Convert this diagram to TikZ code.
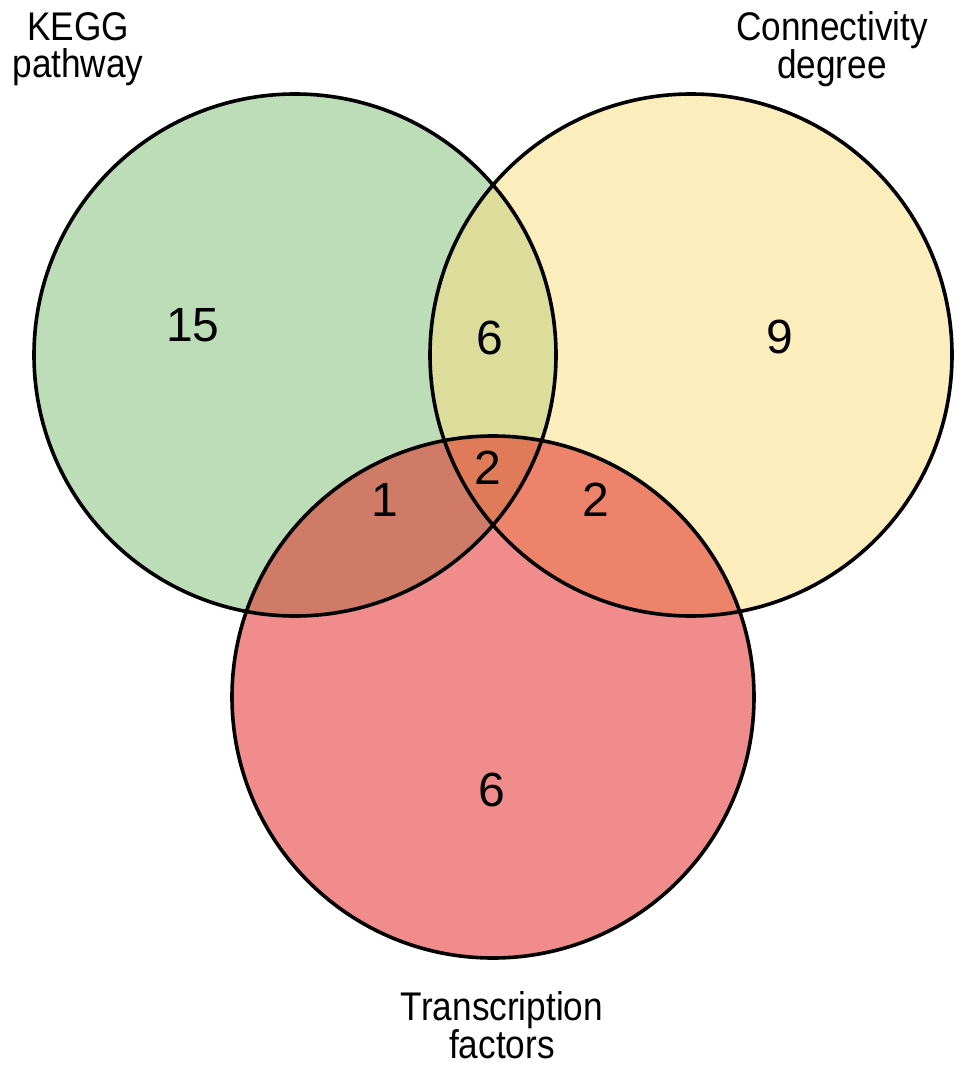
\documentclass[tikz,border=0pt]{standalone}
\usepackage{fontspec}
\setmainfont{Liberation Sans}
\newfontfamily\labelfont[FakeStretch=0.88]{Liberation Sans}
\definecolor{cgreen}{RGB}{125,189,115}
\definecolor{cyellow}{RGB}{251,221,125}
\definecolor{cred}{RGB}{226,26,26}
\tikzset{
  setfill/.style={fill=#1, fill opacity=0.5, draw=none},
  setline/.style={draw=black, line width=3.6pt},
  count/.style={font=\fontsize{48}{52}\selectfont, inner sep=0pt},
  setlabel/.style={font=\labelfont\fontsize{40}{37}\selectfont, inner sep=0pt, align=center}
}
\begin{document}
\begin{tikzpicture}[x=1pt,y=-1pt]
\useasboundingbox (0,0) rectangle (969,1070);
\fill[white] (0,0) rectangle (969,1070);
\coordinate (cg) at (295,355);
\coordinate (cy) at (691,355);
\coordinate (cr) at (493,697);
\fill[setfill=cgreen] (cg) circle[radius=261];
\fill[setfill=cyellow] (cy) circle[radius=261];
\fill[setfill=cred] (cr) circle[radius=261];
\draw[setline] (cg) circle[radius=261];
\draw[setline] (cy) circle[radius=261];
\draw[setline] (cr) circle[radius=261];
\node[count] (n15) at (193,325) {15};
\node[count] (ngy) at (490,338) {6};
\node[count] (ny) at (780,337) {9};
\node[count] (nall) at (488,468) {2};
\node[count] (ngr) at (385,500) {1};
\node[count] (nyr) at (596,500) {2};
\node[count] (nr) at (492,790) {6};
\node[setlabel, anchor=north] (lkegg) at (78,12) {KEGG\\pathway};
\node[setlabel, anchor=north] (lconn) at (832,11) {Connectivity\\degree};
\node[setlabel, anchor=north] (ltf) at (502,991) {Transcription\\factors};
\end{tikzpicture}
\end{document}
